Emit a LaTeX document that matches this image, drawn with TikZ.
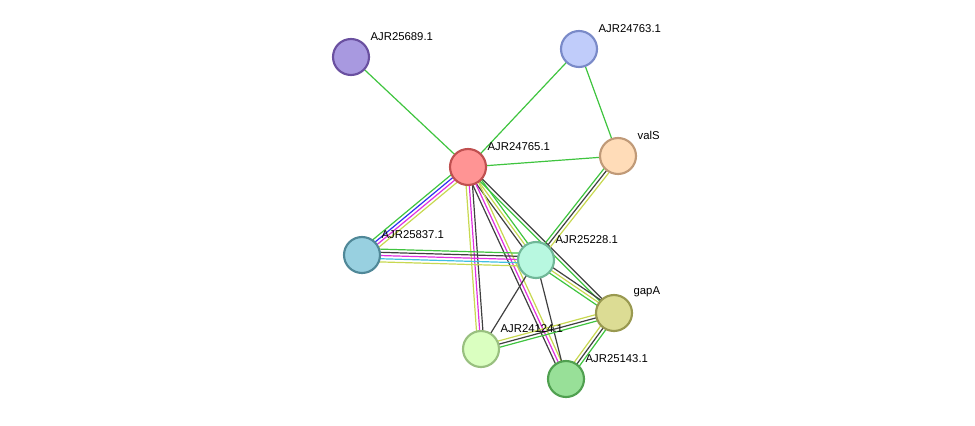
\documentclass[tikz,border=0pt]{standalone}
\usepackage{fontspec}
\setmainfont{Liberation Sans}
\usetikzlibrary{calc}
\definecolor{eg}{HTML}{3FC43F}
\definecolor{ey}{HTML}{C8D850}
\definecolor{em}{HTML}{E030E0}
\definecolor{eb}{HTML}{3030F0}
\definecolor{ec}{HTML}{40C0E0}
\definecolor{ek}{HTML}{404040}
\newcommand{\strlink}[3]{%
  \foreach \c [count=\i] in {#3}{%
    \pgfmathsetmacro{\o}{(\i-1)*2.4-(#1-1)*1.2}
    \draw[\c] ($(#2)!\o pt!90:(\tgt)$) -- ($(\tgt)!\o pt!-90:(#2)$);
  }}
\begin{document}
\begin{tikzpicture}[x=0.75pt,y=-0.75pt,
    prot/.style={circle, minimum size=27pt, inner sep=0pt, line width=1.6pt},
    lbl/.style={anchor=south west, font=\fontsize{8.5}{10}\selectfont, inner sep=0pt},
    every path/.style={line width=0.9pt}
  ]
  \useasboundingbox (0,0) rectangle (975,425);
  % coordinates
  \coordinate (p25689) at (351,57);
  \coordinate (p24763) at (579,49);
  \coordinate (p24765) at (468,167);
  \coordinate (pvalS) at (618,156);
  \coordinate (p25837) at (362,255);
  \coordinate (p25228) at (536,260);
  \coordinate (pgapA) at (614,313);
  \coordinate (p24124) at (481,349);
  \coordinate (p25143) at (566,379);

  % links
  \def\tgt{p25689}\strlink{1}{p24765}{eg}
  \def\tgt{p24763}\strlink{1}{p24765}{eg}
  \def\tgt{pvalS}\strlink{1}{p24763}{eg}
  \def\tgt{pvalS}\strlink{1}{p24765}{eg}
  \def\tgt{p25837}\strlink{4}{p24765}{eg,eb,em,ey}
  \def\tgt{p25228}\strlink{3}{p24765}{ek,ey,eg}
  \def\tgt{pgapA}\strlink{2}{p24765}{eg,ek}
  \def\tgt{p24124}\strlink{3}{p24765}{ey,em,ek}
  \def\tgt{p25143}\strlink{3}{p24765}{ek,em,ey}
  \def\tgt{p25228}\strlink{5}{p25837}{ey,ec,em,ek,eg}
  \def\tgt{p25228}\strlink{3}{pvalS}{eg,ek,ey}
  \def\tgt{pgapA}\strlink{3}{p25228}{eg,ey,ek}
  \def\tgt{p24124}\strlink{1}{p25228}{ek}
  \def\tgt{p25143}\strlink{1}{p25228}{ek}
  \def\tgt{p24124}\strlink{3}{pgapA}{ey,ek,eg}
  \def\tgt{p25143}\strlink{3}{pgapA}{ey,ek,eg}

  % proteins
  \node[prot, fill={rgb,255:red,168;green,153;blue,224}, draw={rgb,255:red,106;green,80;blue,160}] (n25689) at (p25689) {};
  \node[prot, fill={rgb,255:red,192;green,204;blue,250}, draw={rgb,255:red,122;green,138;blue,200}] (n24763) at (p24763) {};
  \node[prot, fill={rgb,255:red,255;green,148;blue,148}, draw={rgb,255:red,192;green,80;blue,80}] (n24765) at (p24765) {};
  \node[prot, fill={rgb,255:red,255;green,220;blue,184}, draw={rgb,255:red,192;green,154;blue,120}] (nvalS) at (pvalS) {};
  \node[prot, fill={rgb,255:red,152;green,208;blue,224}, draw={rgb,255:red,80;green,136;blue,152}] (n25837) at (p25837) {};
  \node[prot, fill={rgb,255:red,184;green,248;blue,224}, draw={rgb,255:red,112;green,184;blue,152}] (n25228) at (p25228) {};
  \node[prot, fill={rgb,255:red,220;green,220;blue,148}, draw={rgb,255:red,153;green,153;blue,80}] (ngapA) at (pgapA) {};
  \node[prot, fill={rgb,255:red,218;green,255;blue,192}, draw={rgb,255:red,153;green,192;blue,128}] (n24124) at (p24124) {};
  \node[prot, fill={rgb,255:red,152;green,224;blue,152}, draw={rgb,255:red,80;green,160;blue,80}] (n25143) at (p25143) {};

  % labels
  \node[lbl] (t25689) at (370,41) {AJR25689.1};
  \node[lbl] (t24763) at (598,33) {AJR24763.1};
  \node[lbl] (t24765) at (487,151) {AJR24765.1};
  \node[lbl] (tvalS) at (637,140) {valS};
  \node[lbl] (t25837) at (381,239) {AJR25837.1};
  \node[lbl] (t25228) at (555,244) {AJR25228.1};
  \node[lbl] (tgapA) at (633,297) {gapA};
  \node[lbl] (t24124) at (500,333) {AJR24124.1};
  \node[lbl] (t25143) at (585,363) {AJR25143.1};
\end{tikzpicture}
\end{document}
